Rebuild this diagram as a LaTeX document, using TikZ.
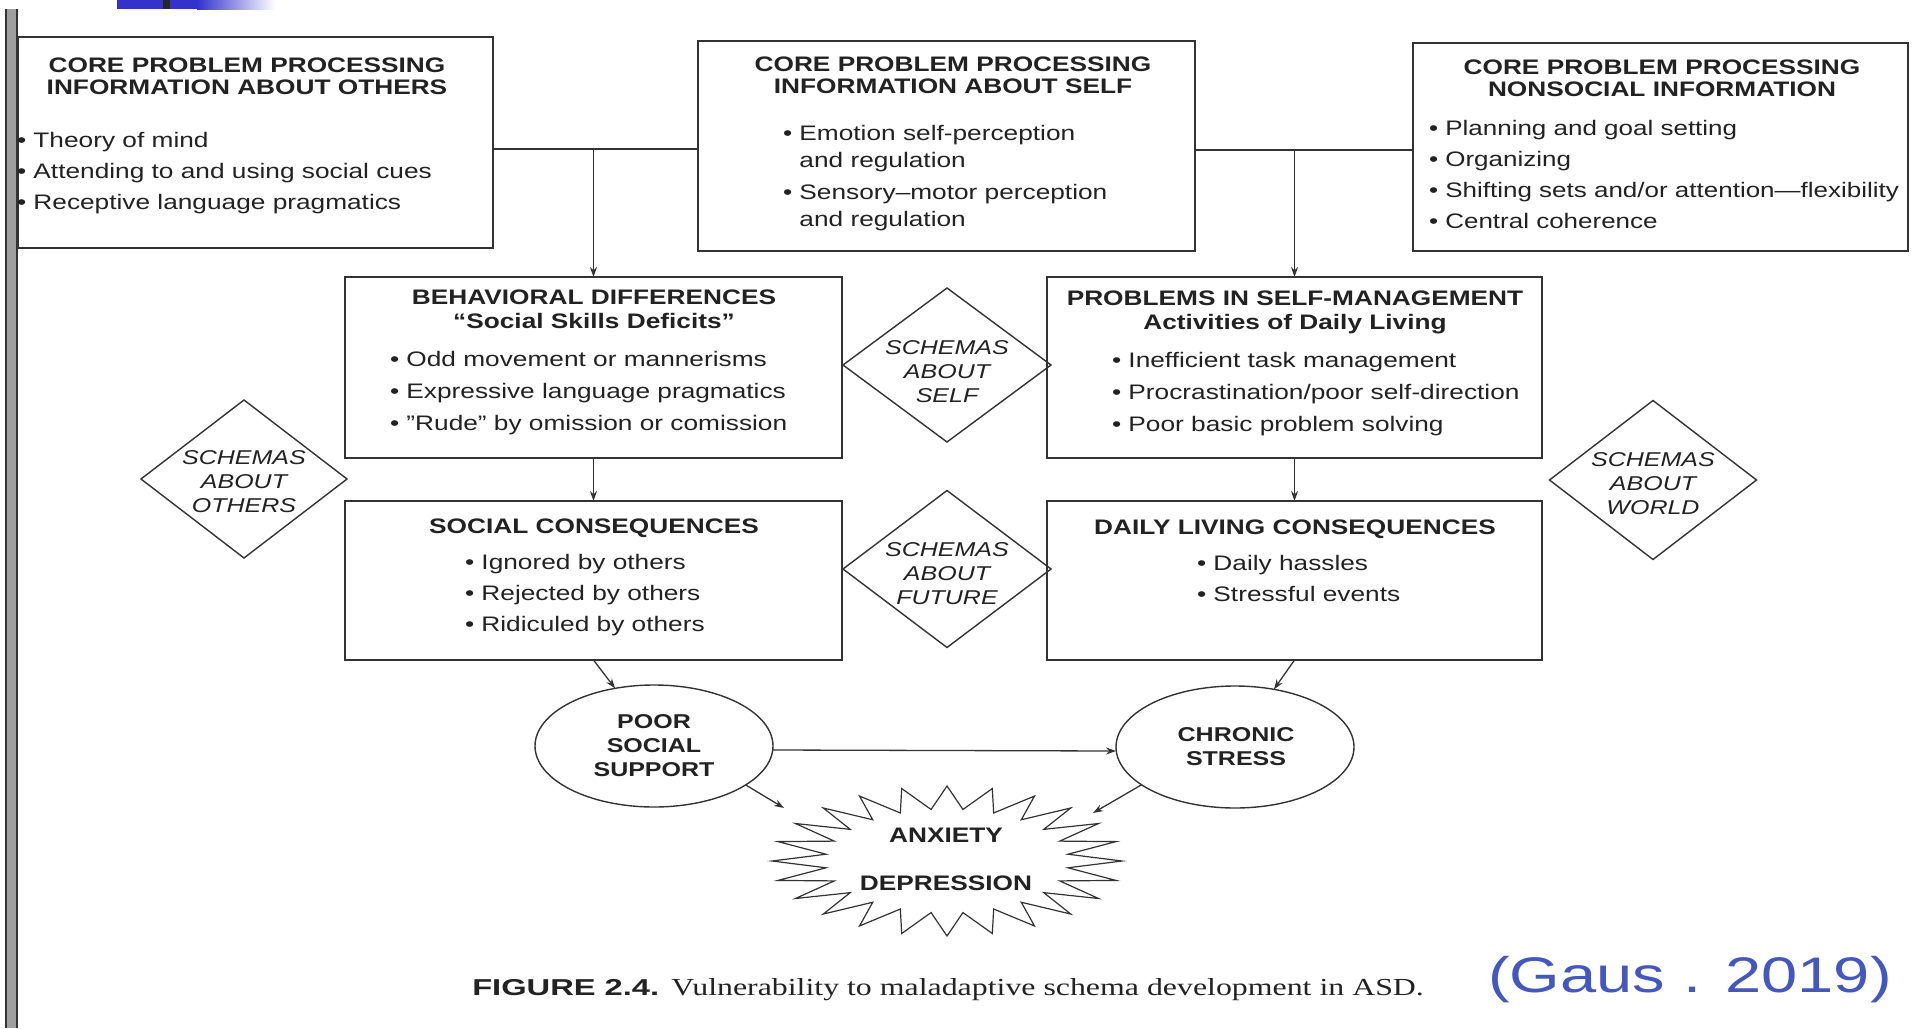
\documentclass[tikz,border=0pt]{standalone}
\usepackage{fontspec}
\setmainfont{Liberation Sans}
\newfontfamily\capserif{Liberation Serif}
\usetikzlibrary{shapes.geometric,arrows.meta}
\definecolor{ink}{HTML}{222222}
\definecolor{lin}{HTML}{333333}
\definecolor{slideblue}{HTML}{3333CC}
\definecolor{pen}{HTML}{4457C0}
\newcommand\hdfont{\fontsize{21}{22}\selectfont\bfseries}
\newcommand\hdtwo{\fontsize{21}{24}\selectfont\bfseries}
\newcommand\bdfont{\fontsize{21}{31}\selectfont}
\newcommand\bdwide{\fontsize{21}{32}\selectfont}
\newcommand\dmfont{\fontsize{20}{24}\selectfont\itshape}
\newcommand\elfont{\fontsize{20}{24}\selectfont\bfseries}
\begin{document}
\begin{tikzpicture}[x=1pt,y=-1pt,
  box/.style={draw=lin, line width=1.6pt, inner sep=0pt, outer sep=0pt, rectangle},
  dia/.style={draw=lin, line width=1.4pt, diamond, inner sep=0pt, outer sep=0pt},
  ell/.style={draw=lin, line width=1.4pt, ellipse, inner sep=0pt, outer sep=0pt},
  txt/.style={inner sep=0pt, outer sep=0pt, xscale=1.25, text=ink},
  ln/.style={draw=lin, line width=1.3pt},
  arr/.style={draw=lin, line width=1.3pt, -{Stealth[length=10pt,width=7pt]}}]
\useasboundingbox (0,0) rectangle (1916,1028);
\fill[white] (0,0) rectangle (1916,1028);
% slide decorations
\fill[slideblue] (117,0) rectangle (198,9);
\shade[left color=slideblue, right color=white] (197,0) rectangle (275,9);
\fill[black!85] (163,0) rectangle (170,9);
\fill[gray!75] (5,9) rectangle (18,1028);
\draw[black!80, line width=2pt] (6,9) -- (6,1028);
\draw[black!80, line width=2pt] (17,9) -- (17,1028);

% boxes
\node[box, minimum width=475pt, minimum height=211pt] (L) at (255.5,142.5) {};
\node[box, minimum width=497pt, minimum height=210pt] (M) at (946.5,146) {};
\node[box, minimum width=495pt, minimum height=208pt] (R) at (1660.5,147) {};
\node[box, minimum width=497pt, minimum height=181pt] (B) at (593.5,367.5) {};
\node[box, minimum width=495pt, minimum height=181pt] (P) at (1294.5,367.5) {};
\node[box, minimum width=497pt, minimum height=159pt] (S) at (593.5,580.5) {};
\node[box, minimum width=495pt, minimum height=159pt] (D) at (1294.5,580.5) {};

% diamonds
\node[dia, minimum width=208pt, minimum height=154pt] (dSelf) at (947,365) {};
\node[dia, minimum width=206pt, minimum height=158pt] (dOth) at (244,479) {};
\node[dia, minimum width=207pt, minimum height=159pt] (dWor) at (1653,480) {};
\node[dia, minimum width=208pt, minimum height=157pt] (dFut) at (947,569) {};

% ellipses
\node[ell, minimum width=238pt, minimum height=122pt] (Poor) at (654,746) {};
\node[ell, minimum width=238pt, minimum height=122pt] (Chr) at (1235,747) {};

% starburst
\draw[ln, line width=1.2pt] plot[variable=\t, samples at={0,...,47}]
  ({947+ifthenelse(mod(\t,2)==0,175,122)*cos(\t*7.5)},
   {861+ifthenelse(mod(\t,2)==0,75,52)*sin(\t*7.5)}) -- cycle;
\coordinate (sL) at (784,808);
\coordinate (sR) at (1093,813);

% texts in boxes
\node[txt, anchor=base] (tLh) at (247,72) {\hdfont\begin{tabular}[t]{@{}c@{}}CORE PROBLEM PROCESSING\\INFORMATION ABOUT OTHERS\end{tabular}};
\node[txt, anchor=base west] (tLb) at (17,147) {\bdfont\begin{tabular}[t]{@{}l@{}}• Theory of mind\\• Attending to and using social cues\\• Receptive language pragmatics\end{tabular}};

\node[txt, anchor=base] (tMh) at (953,71) {\hdfont\begin{tabular}[t]{@{}c@{}}CORE PROBLEM PROCESSING\\INFORMATION ABOUT SELF\end{tabular}};
\node[txt, anchor=base west] (tMb) at (783,140) {\fontsize{21}{27}\selectfont\begin{tabular}[t]{@{}l@{\ }l@{}}•&Emotion self-perception\\&and regulation\\[5pt]•&Sensory–motor perception\\&and regulation\end{tabular}};

\node[txt, anchor=base] (tRh) at (1662,74) {\hdfont\begin{tabular}[t]{@{}c@{}}CORE PROBLEM PROCESSING\\NONSOCIAL INFORMATION\end{tabular}};
\node[txt, anchor=base west, xscale=0.99] (tRb) at (1429,135) {\bdfont\begin{tabular}[t]{@{}l@{}}• Planning and goal setting\\• Organizing\\• Shifting sets and/or attention—flexibility\\• Central coherence\end{tabular}};

\node[txt, anchor=base] (tBh) at (594,304) {\hdtwo\begin{tabular}[t]{@{}c@{}}BEHAVIORAL DIFFERENCES\\“Social Skills Deficits”\end{tabular}};
\node[txt, anchor=base west] (tBb) at (390,366) {\bdwide\begin{tabular}[t]{@{}l@{}}• Odd movement or mannerisms\\• Expressive language pragmatics\\• "Rude" by omission or comission\end{tabular}};

\node[txt, anchor=base] (tPh) at (1295,305) {\hdtwo\begin{tabular}[t]{@{}c@{}}PROBLEMS IN SELF-MANAGEMENT\\Activities of Daily Living\end{tabular}};
\node[txt, anchor=base west] (tPb) at (1112,367) {\bdwide\begin{tabular}[t]{@{}l@{}}• Inefficient task management\\• Procrastination/poor self-direction\\• Poor basic problem solving\end{tabular}};

\node[txt, anchor=base] (tSh) at (594,533) {\hdfont SOCIAL CONSEQUENCES};
\node[txt, anchor=base west] (tSb) at (465,569) {\bdfont\begin{tabular}[t]{@{}l@{}}• Ignored by others\\• Rejected by others\\• Ridiculed by others\end{tabular}};

\node[txt, anchor=base] (tDh) at (1295,534) {\hdfont DAILY LIVING CONSEQUENCES};
\node[txt, anchor=base west] (tDb) at (1197,570) {\bdfont\begin{tabular}[t]{@{}l@{}}• Daily hassles\\• Stressful events\end{tabular}};

% diamond texts
\node[txt, anchor=base] (tdSelf) at (947,354) {\dmfont\begin{tabular}[t]{@{}c@{}}SCHEMAS\\ABOUT\\SELF\end{tabular}};
\node[txt, anchor=base] (tdOth) at (244,464) {\dmfont\begin{tabular}[t]{@{}c@{}}SCHEMAS\\ABOUT\\OTHERS\end{tabular}};
\node[txt, anchor=base] (tdWor) at (1653,466) {\dmfont\begin{tabular}[t]{@{}c@{}}SCHEMAS\\ABOUT\\WORLD\end{tabular}};
\node[txt, anchor=base] (tdFut) at (947,556) {\dmfont\begin{tabular}[t]{@{}c@{}}SCHEMAS\\ABOUT\\FUTURE\end{tabular}};

% ellipse texts
\node[txt, anchor=base] (tPoor) at (654,728) {\elfont\begin{tabular}[t]{@{}c@{}}POOR\\SOCIAL\\SUPPORT\end{tabular}};
\node[txt, anchor=base] (tChr) at (1236,741) {\elfont\begin{tabular}[t]{@{}c@{}}CHRONIC\\STRESS\end{tabular}};

% starburst text
\node[txt, anchor=base] (star) at (946,842) {\fontsize{21}{48}\selectfont\bfseries\begin{tabular}[t]{@{}c@{}}ANXIETY\\DEPRESSION\end{tabular}};

% connectors
\coordinate (j1) at (593.5,149);
\coordinate (j2) at (1294.5,150);
\draw[ln] (L.east |- j1) -- (M.west |- j1);
\draw[ln] (M.east |- j2) -- (R.west |- j2);
\draw[arr] (j1) -- (B.north);
\draw[arr] (j2) -- (P.north);
\draw[arr] (B.south) -- (S.north);
\draw[arr] (P.south) -- (D.north);
\draw[arr] (S.south) -- (Poor.124);
\draw[arr] (D.south) -- (Chr.56);
\draw[arr] ([yshift=-4pt]Poor.east) -- ([yshift=-4pt]Chr.west);
\draw[arr] (Poor.-23) -- (sL);
\draw[arr] (Chr.202) -- (sR);

% caption
\node[inner sep=0pt, anchor=base west, xscale=1.42, text=ink] (figl) at (472,995) {\fontsize{23}{26}\selectfont\bfseries FIGURE 2.4.};
\node[inner sep=0pt, anchor=base west, xscale=1.3, text=ink] (figt) at (671,995) {\capserif\fontsize{24.5}{28}\selectfont Vulnerability to maladaptive schema development in ASD.};
\node[inner sep=0pt, xscale=1.3, text=pen] (gaus) at (1690,980) {\fontsize{50}{60}\selectfont (Gaus . 2019)};
\end{tikzpicture}
\end{document}
